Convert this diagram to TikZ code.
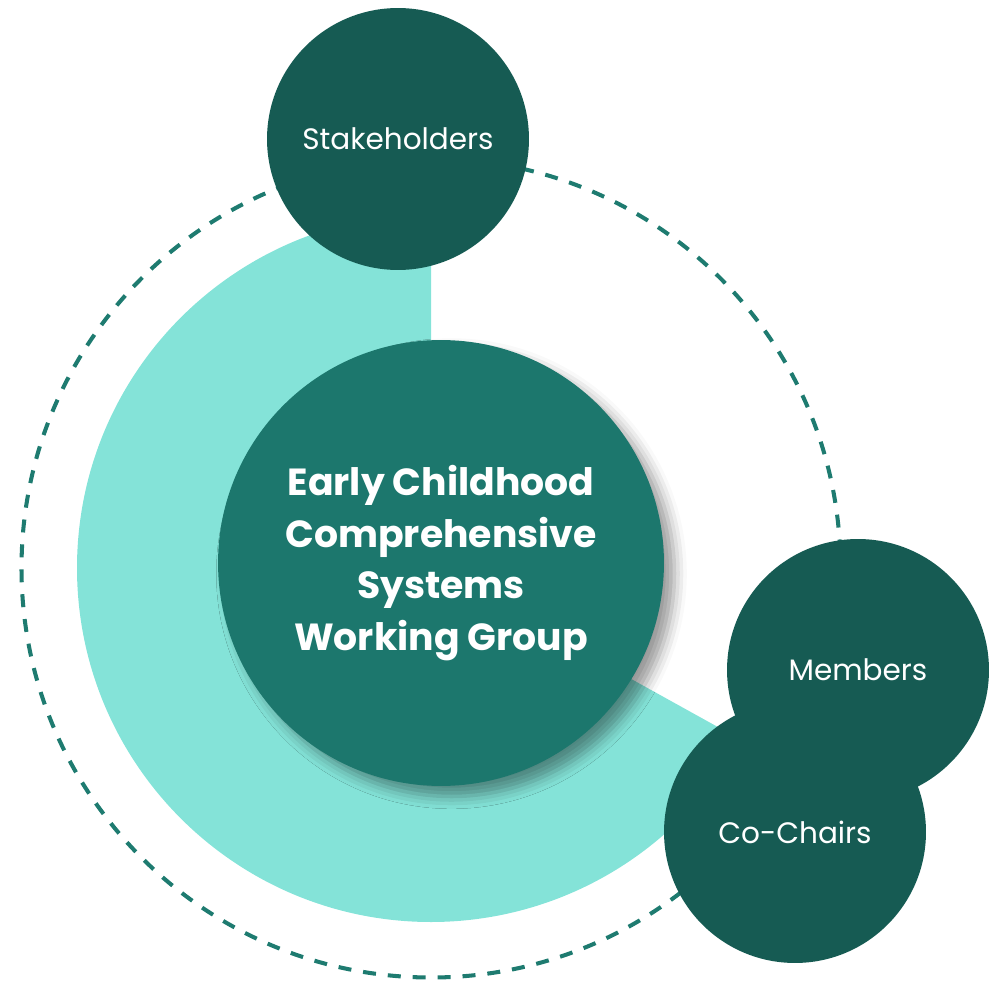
\documentclass[tikz,border=0pt]{standalone}
\usepackage{fontspec}
\setmainfont{Poppins}
\usetikzlibrary{shadows.blur}
\definecolor{darkteal}{HTML}{165B53}
\definecolor{midteal}{HTML}{1C776D}
\definecolor{lightteal}{HTML}{84E3D8}
\definecolor{dashteal}{HTML}{1E7B70}
\tikzset{
  bubble/.style={circle, fill=darkteal, text=white, minimum size=5.24cm, inner sep=0pt,
    font=\fontsize{16.8}{19}\selectfont},
  hub/.style={circle, fill=midteal, text=white, minimum size=8.92cm, inner sep=0pt, align=center,
    font=\bfseries\fontsize{21.5}{29.5}\selectfont,
    blur shadow={shadow xshift=6pt, shadow yshift=-6pt, shadow blur radius=7pt, shadow opacity=40}},
  orbit/.style={draw=dashteal, line width=2.3pt, dash pattern=on 7.4pt off 6.8pt}
}
\begin{document}
\begin{tikzpicture}[x=0.02cm,y=-0.02cm]
\useasboundingbox (0,0) rectangle (1000,982);

\coordinate (o) at (431,568);

% outer dashed ring and the light sector
\draw[orbit] (o) circle[radius=409.5];
\fill[lightteal] (o) -- (431,214) arc[start angle=-90, end angle=-331, radius=354] -- cycle;

\node[hub] (ecc) at (441,563) {Early Childhood\\Comprehensive\\Systems\\Working Group};

\node[bubble] (stake) at (398,139) {Stakeholders};
\node[bubble] (members) at (858,670) {Members};
\node[bubble] (chairs) at (795,832) {Co-Chairs};
\end{tikzpicture}
\end{document}
